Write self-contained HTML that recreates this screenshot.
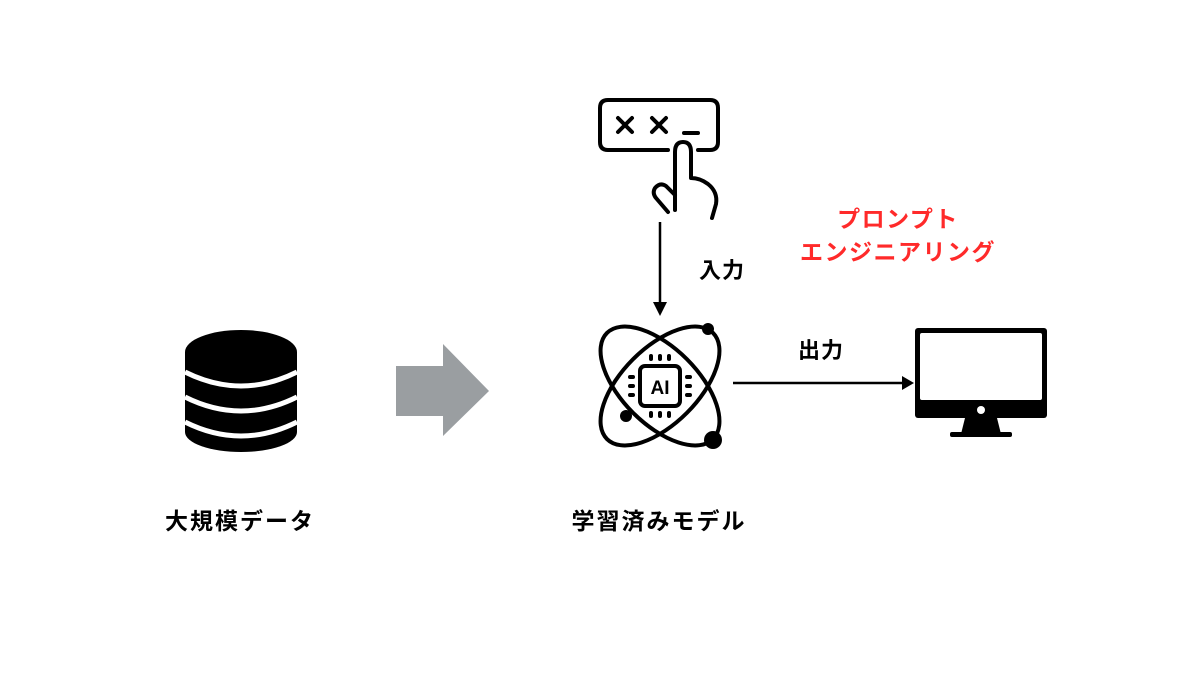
<!DOCTYPE html>
<html><head><meta charset="utf-8"><style>
html,body{margin:0;padding:0;background:#fff;}
svg{display:block}
text{font-family:"Liberation Sans","Noto Sans CJK JP",sans-serif;font-weight:bold;}
</style></head><body>
<svg width="1200" height="675" viewBox="0 0 1200 675" xmlns="http://www.w3.org/2000/svg">
<g>
<rect x="185" y="352" width="112" height="80" fill="#000"/>
<ellipse cx="241" cy="432" rx="56" ry="20" fill="#000"/>
<ellipse cx="241" cy="352" rx="56" ry="22" fill="#000"/>
<path d="M185 372 Q241 400 297 372" stroke="#fff" stroke-width="5" fill="none"/>
<path d="M185 397 Q241 425 297 397" stroke="#fff" stroke-width="5" fill="none"/>
<path d="M185 422 Q241 450 297 422" stroke="#fff" stroke-width="5" fill="none"/>
</g>
<polygon points="396,366 443,366 443,344 489,391 443,436 443,416 396,416" fill="#9a9ea1"/>
<g fill="none" stroke="#000" stroke-width="4" stroke-linecap="round" stroke-linejoin="round">
<path d="M668 150 H608 Q600 150 600 142 V108 Q600 100 608 100 H710 Q718 100 718 108 V142 Q718 150 710 150 H698"/>
<path d="M618 118 L632 132 M632 118 L618 132"/>
<path d="M652 118 L666 132 M666 118 L652 132"/>
<path d="M684 133 H698"/>
<path d="M675 210 L675 152 Q675 142 683 142 Q691 142 691 152 L691 178 Q700 178 708 184 Q718 192 716 204 L712 218"/>
<path d="M675 195 L666 186 Q660 182 655 188 Q652 193 656 198 L668 212"/>
</g>
<line x1="660" y1="222" x2="660" y2="304" stroke="#000" stroke-width="2.5"/>
<polygon points="653,302 667,302 660,316" fill="#000"/>
<g fill="none" stroke="#000" stroke-width="4">
<ellipse cx="660" cy="386" rx="75" ry="38" transform="rotate(-45 660 386)"/>
<ellipse cx="660" cy="386" rx="75" ry="38" transform="rotate(45 660 386)"/>
<rect x="640" y="366" width="40" height="40" rx="5" fill="#fff"/>
<g stroke-width="4" stroke-linecap="round">
<path d="M651 356v3M660 356v3M669 356v3M651 413v3M660 413v3M669 413v3M630 377h3M630 386h3M630 395h3M687 377h3M687 386h3M687 395h3"/>
</g>
</g>
<text x="660" y="394" font-size="19" text-anchor="middle">AI</text>
<circle cx="708" cy="329" r="6" fill="#000"/>
<circle cx="626" cy="416" r="6" fill="#000"/>
<circle cx="713" cy="440" r="9" fill="#000"/>
<line x1="733" y1="383" x2="904" y2="383" stroke="#000" stroke-width="2.5"/>
<polygon points="902,376 902,390 914,383" fill="#000"/>
<rect x="915" y="328" width="132" height="90" rx="3" fill="#000"/>
<rect x="920" y="333" width="122" height="67" rx="2" fill="#fff"/>
<circle cx="981" cy="410" r="4" fill="#fff"/>
<polygon points="965,418 997,418 1001,434 961,434" fill="#000"/>
<rect x="950" y="432" width="62" height="5" rx="2" fill="#000"/>
<text x="722" y="278" font-size="22" text-anchor="middle" letter-spacing="1">入力</text>
<text x="821" y="358" font-size="22" text-anchor="middle" letter-spacing="1">出力</text>
<text x="898" y="227" font-size="23" text-anchor="middle" letter-spacing="1.5" fill="#ff2a2a">プロンプト</text>
<text x="898" y="260" font-size="23" text-anchor="middle" letter-spacing="1.5" fill="#ff2a2a">エンジニアリング</text>
<text x="240" y="529" font-size="23" text-anchor="middle" letter-spacing="2">大規模データ</text>
<text x="659" y="529" font-size="23" text-anchor="middle" letter-spacing="2">学習済みモデル</text>
</svg>
</body></html>
